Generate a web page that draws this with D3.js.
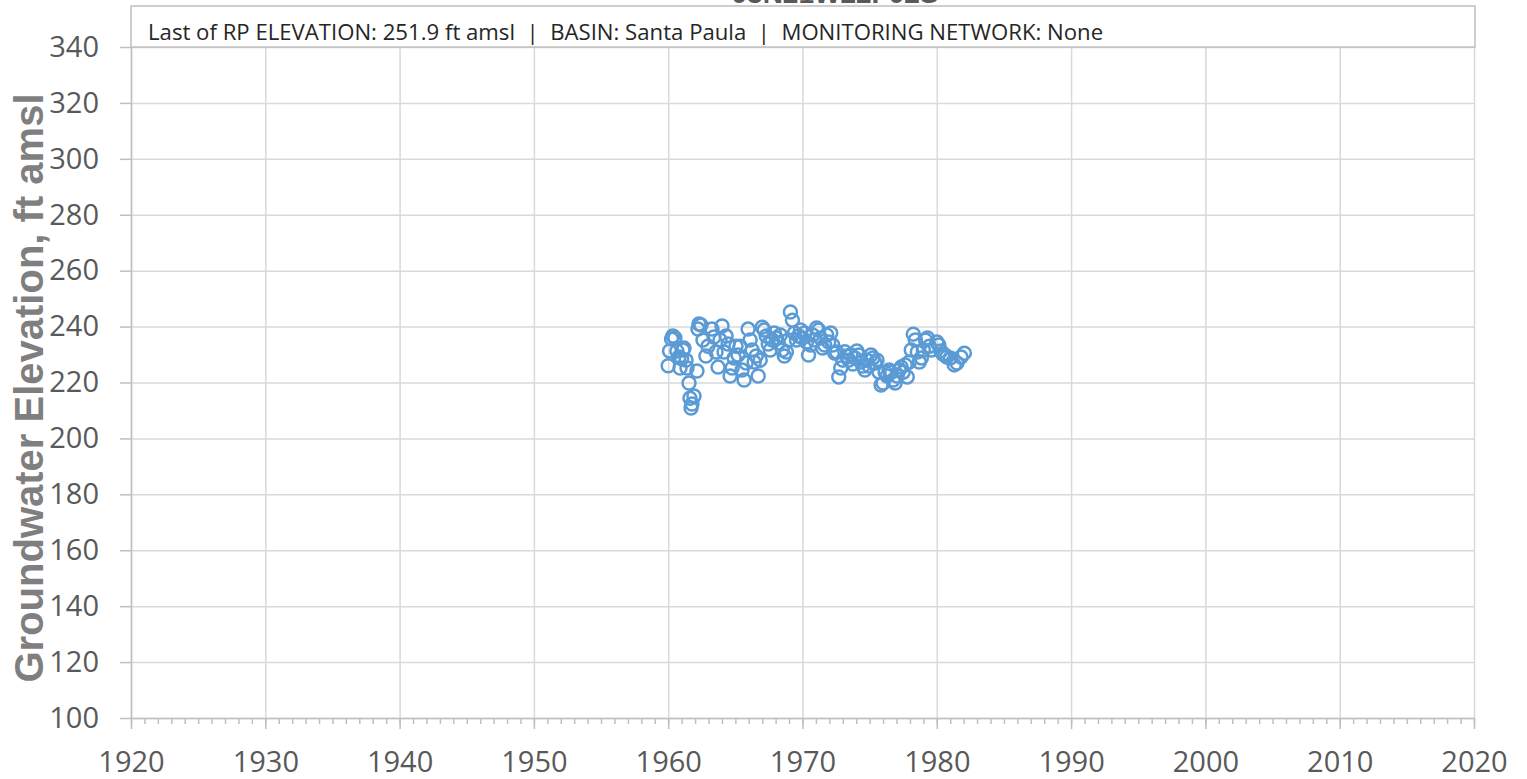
<!DOCTYPE html>
<html>
<head>
<meta charset="utf-8">
<script src="https://cdn.jsdelivr.net/npm/d3@7"></script>
<style>
  body { margin: 0; background: #fff; }
  svg { display: block; }
</style>
</head>
<body>
<svg id="chart" width="1527" height="779"></svg>
<script>
/****** Hydrograph data *******/
const chartTitle = "03N21W22F02S";
const infoText = "Last of RP ELEVATION: 251.9 ft amsl  |  BASIN: Santa Paula  |  MONITORING NETWORK: None";
const yLabel = "Groundwater Elevation, ft amsl";

const xTicks = [1920, 1930, 1940, 1950, 1960, 1970, 1980, 1990, 2000, 2010, 2020];
const yTicks = [100, 120, 140, 160, 180, 200, 220, 240, 260, 280, 300, 320, 340];

// decimal year of each measurement
const years = [
    1960.00, 1960.10, 1960.25, 1960.35, 1960.50, 1960.65, 1960.80, 1960.88, 1961.00, 1961.10,
    1961.18, 1961.33, 1961.40, 1961.55, 1961.62, 1961.70, 1961.77, 1961.92, 1962.14, 1962.22,
    1962.29, 1962.44, 1962.59, 1962.81, 1962.96, 1963.26, 1963.41, 1963.56, 1963.71, 1963.86,
    1964.01, 1964.16, 1964.31, 1964.46, 1964.61, 1964.76, 1964.91, 1965.05, 1965.20, 1965.35,
    1965.50, 1965.65, 1965.80, 1965.95, 1966.10, 1966.25, 1966.40, 1966.55, 1966.70, 1966.85,
    1967.00, 1967.15, 1967.30, 1967.45, 1967.60, 1967.75, 1967.90, 1968.05, 1968.20, 1968.35,
    1968.50, 1968.65, 1968.80, 1968.95, 1969.10, 1969.25, 1969.40, 1969.55, 1969.70, 1969.85,
    1970.00, 1970.15, 1970.30, 1970.45, 1970.60, 1970.75, 1970.90, 1971.05, 1971.20, 1971.35,
    1971.50, 1971.65, 1971.80, 1971.95, 1972.10, 1972.25, 1972.40, 1972.55, 1972.70, 1972.85,
    1973.00, 1973.15, 1973.30, 1973.45, 1973.60, 1973.75, 1973.90, 1974.05, 1974.20, 1974.35,
    1974.50, 1974.65, 1974.80, 1974.95, 1975.10, 1975.25, 1975.40, 1975.55, 1975.70, 1975.85,
    1976.00, 1976.15, 1976.30, 1976.45, 1976.60, 1976.75, 1976.90, 1977.05, 1977.20, 1977.35,
    1977.50, 1977.65, 1977.80, 1977.95, 1978.10, 1978.25, 1978.40, 1978.55, 1978.70, 1978.85,
    1979.00, 1979.15, 1979.30, 1979.45, 1979.60, 1980.00, 1980.15, 1980.30, 1980.45, 1980.60,
    1980.75, 1981.00, 1981.30, 1981.50, 1981.80, 1982.05
];

// groundwater elevation, ft amsl
const elevations = [
    226.0, 231.3, 235.6, 236.6, 235.9, 231.3, 229.1, 225.2, 228.5, 231.6,
    232.3, 228.0, 225.2, 219.8, 214.4, 210.9, 212.3, 215.2, 224.1, 239.1,
    240.9, 240.6, 235.2, 229.5, 233.0, 239.1, 236.3, 230.9, 225.5, 235.2,
    240.2, 230.9, 236.6, 233.8, 222.3, 225.2, 228.8, 233.0, 229.8, 233.0,
    224.5, 220.9, 227.0, 239.1, 235.2, 231.6, 227.3, 229.5, 222.3, 228.0,
    239.8, 238.8, 236.6, 233.8, 231.6, 235.2, 237.7, 235.9, 234.1, 237.0,
    231.6, 229.5, 230.9, 235.2, 245.2, 242.3, 237.7, 235.2, 236.6, 238.8,
    235.9, 237.7, 234.5, 229.8, 233.4, 237.0, 235.2, 239.5, 238.8, 235.9,
    232.3, 233.4, 237.0, 234.5, 237.7, 233.4, 230.5, 230.9, 222.0, 225.2,
    228.0, 231.0, 229.5, 228.0, 229.8, 226.6, 228.8, 231.3, 229.8, 227.3,
    225.9, 224.5, 228.0, 225.9, 229.8, 228.8, 227.0, 228.0, 223.7, 219.1,
    219.8, 223.7, 222.3, 224.5, 223.7, 220.9, 219.8, 222.3, 224.5, 225.5,
    223.7, 226.3, 222.0, 227.3, 231.6, 237.3, 235.2, 230.9, 227.3, 228.8,
    231.6, 235.2, 235.9, 233.0, 231.6, 234.5, 233.4, 231.3, 230.2, 229.8,
    229.1, 228.8, 226.3, 227.0, 229.1, 230.5
];

/** Build the chart **/
function drawChart() {
    var plot = {left: 131, right: 1474, top: 47, bottom: 718};
    var gridColor = "#d9d9d9", axisColor = "#bfbfbf", textColor = "#595959";

    var svg = d3.select("#chart");

    var x = d3.scaleLinear().domain([1920, 2020]).range([plot.left, plot.right]);
    var y = d3.scaleLinear().domain([100, 340]).range([plot.bottom, plot.top]);

    var data = years.map(function (d, i) {
        return {year: d, value: elevations[i]};
    });

    // gridlines
    svg.append("g")
        .attr("transform", "translate(0," + plot.bottom + ")")
        .call(d3.axisBottom(x).tickValues(xTicks).tickSize(-(plot.bottom - plot.top)).tickFormat(""))
        .call(g => g.select(".domain").remove())
        .call(g => g.selectAll("line").attr("stroke", gridColor).attr("stroke-width", 1.5));

    svg.append("g")
        .attr("transform", "translate(" + plot.left + ",0)")
        .call(d3.axisLeft(y).tickValues(yTicks).tickSize(-(plot.right - plot.left)).tickFormat(""))
        .call(g => g.select(".domain").remove())
        .call(g => g.selectAll("line").attr("stroke", gridColor).attr("stroke-width", 1.5));

    // y axis
    svg.append("g")
        .attr("transform", "translate(" + plot.left + ",0)")
        .call(d3.axisLeft(y).tickValues(yTicks).tickSize(11).tickSizeOuter(0).tickPadding(21))
        .call(g => g.select(".domain").attr("stroke", axisColor).attr("stroke-width", 1.5))
        .call(g => g.selectAll("line").attr("stroke", axisColor).attr("stroke-width", 1.5))
        .call(g => g.selectAll("text")
            .attr("fill", textColor)
            .attr("font-family", "'Open Sans', sans-serif")
            .attr("font-size", 29));

    // x axis, minor ticks every year
    svg.append("g")
        .attr("transform", "translate(0," + plot.bottom + ")")
        .call(d3.axisBottom(x).tickValues(d3.range(1920, 2021, 1)).tickSize(6).tickSizeOuter(0).tickFormat(""))
        .call(g => g.selectAll("line").attr("stroke", axisColor).attr("stroke-width", 1.5))
        .call(g => g.select(".domain").attr("stroke", axisColor).attr("stroke-width", 1.5));

    svg.append("g")
        .attr("transform", "translate(0," + plot.bottom + ")")
        .call(d3.axisBottom(x).tickValues(xTicks).tickSize(11).tickSizeOuter(0).tickPadding(22).tickFormat(d3.format("d")))
        .call(g => g.select(".domain").remove())
        .call(g => g.selectAll("line").attr("stroke", axisColor).attr("stroke-width", 1.5))
        .call(g => g.selectAll("text")
            .attr("fill", textColor)
            .attr("font-family", "'Open Sans', sans-serif")
            .attr("font-size", 29));

    // y axis title
    svg.append("text")
        .attr("transform", "translate(43," + 388 + ") rotate(-90)")
        .attr("text-anchor", "middle")
        .attr("font-family", "'Liberation Sans', Arial, sans-serif")
        .attr("font-weight", "bold")
        .attr("font-size", 40)
        .attr("fill", "#7f7f7f")
        .text(yLabel);

    // chart title (cut off at the top, as in the source chart)
    svg.append("text")
        .attr("x", 835)
        .attr("y", 3)
        .attr("text-anchor", "middle")
        .attr("font-family", "'Liberation Sans', Arial, sans-serif")
        .attr("font-weight", "bold")
        .attr("font-size", 28)
        .attr("fill", textColor)
        .text(chartTitle);

    // info box
    svg.append("rect")
        .attr("x", plot.left)
        .attr("y", 6)
        .attr("width", plot.right - plot.left + 1)
        .attr("height", plot.top - 6)
        .attr("fill", "#fff")
        .attr("stroke", axisColor)
        .attr("stroke-width", 1.5);

    var info = svg.append("text")
        .attr("x", 148)
        .attr("y", 40)
        .attr("font-family", "'Open Sans', sans-serif")
        .attr("font-size", 20)
        .attr("fill", "#262626")
        .attr("xml:space", "preserve")
        .style("white-space", "pre")
        .text(infoText);
    var len = info.node().getComputedTextLength();
    info.attr("font-size", 20 * 956 / len);

    // measurements
    svg.append("g")
        .selectAll("circle")
        .data(data)
        .enter().append("circle")
        .attr("cx", function (d) { return x(d.year); })
        .attr("cy", function (d) { return y(d.value); })
        .attr("r", 6.5)
        .attr("fill", "none")
        .attr("stroke", "#5b9bd5")
        .attr("stroke-width", 2.5);
}

drawChart();
</script>
</body>
</html>
